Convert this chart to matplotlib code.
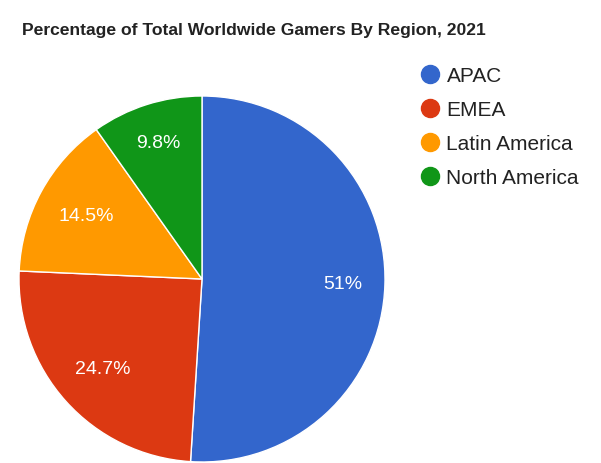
import numpy as np
import matplotlib
matplotlib.use("Agg")
import matplotlib.pyplot as plt
from matplotlib.lines import Line2D

plt.rcParams['font.family'] = ['Liberation Sans', 'DejaVu Sans']

regions = ["APAC", "EMEA", "Latin America", "North America"]
shares = [51, 24.7, 14.5, 9.8]
labels = ["51%", "24.7%", "14.5%", "9.8%"]
colors = ["#3366cc", "#dc3912", "#ff9900", "#109618"]

W, H = 601, 464
fig = plt.figure(figsize=(W / 100, H / 100), dpi=100)

# pie axes: center (202, 280) px, radius 183 px
cx, cy, r = 202, 280, 183
ax = fig.add_axes([(cx - r) / W, (H - cy - r) / H, 2 * r / W, 2 * r / H])
wedges, texts = ax.pie(shares, colors=colors, startangle=90, counterclock=False,
                       wedgeprops=dict(edgecolor="white", linewidth=1),
                       radius=1)
ax.set_xlim(-1, 1)
ax.set_ylim(-1, 1)
ax.set_aspect("equal")
ax.axis("off")

dists = [0.77, 0.73, 0.72, 0.78]
for w, lab, d in zip(wedges, labels, dists):
    ang = np.deg2rad((w.theta1 + w.theta2) / 2)
    ax.text(d * np.cos(ang), d * np.sin(ang), lab, color="white",
            fontsize=14, ha="center", va="center")

fig.text(22 / W, 1 - 30 / H, "Percentage of Total Worldwide Gamers By Region, 2021",
         fontsize=12.6, fontweight="bold", ha="left", va="center", color="#222222")

handles = [Line2D([], [], marker="o", linestyle="", markersize=13,
                  markerfacecolor=c, markeredgecolor=c) for c in colors]
fig.legend(handles, regions, loc="upper left", bbox_to_anchor=(410 / W, 1 - 59 / H),
           frameon=False, fontsize=15, handletextpad=0.25, labelspacing=0.72,
           handlelength=1.1, borderaxespad=0, labelcolor="#222222")

fig.savefig("out.png", dpi=100)
